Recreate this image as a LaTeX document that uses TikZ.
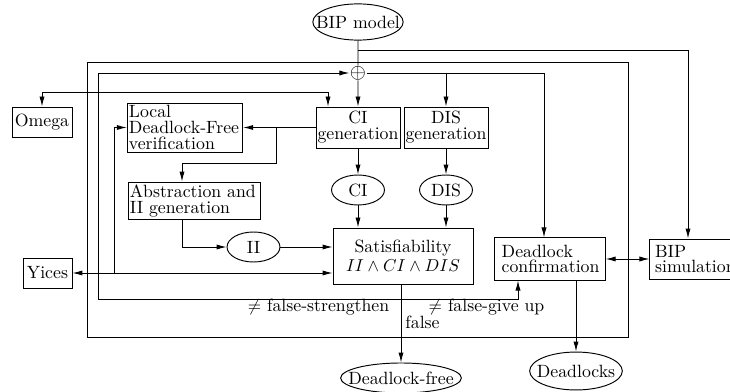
\documentclass[tikz,border=0pt]{standalone}
\usepackage{amsmath}
\usetikzlibrary{shapes.geometric,arrows.meta}

\begin{document}
\begin{tikzpicture}[x=0.58pt,y=-0.58pt,
  font=\fontsize{10.3}{9.2}\selectfont,
  line width=0.55pt,
  arr/.style={-{Latex[length=5.8pt,width=3pt]}},
  darr/.style={{Latex[length=5.8pt,width=3pt]}-{Latex[length=5.8pt,width=3pt]}},
  box/.style={draw, inner xsep=1.5pt, inner ysep=0pt, align=left},
  cbox/.style={draw, inner sep=0pt, align=center},
  oval/.style={draw, ellipse, inner ysep=0pt}]
  \useasboundingbox (0,0) rectangle (730,392);
  \node[oval, inner xsep=-5.8pt, minimum width=51pt, minimum height=21pt] (bipm) at (358,22) {BIP model};
  \node[inner sep=0pt, scale=1.2] (sum) at (358,73) {$\oplus$};
  \node[draw, minimum width=313.8pt, minimum height=159.5pt] (frame) at (357.5,199.5) {};
  \node[cbox, minimum width=34.8pt, minimum height=17.4pt] (omega) at (42,122) {Omega};
  \node[box, inner xsep=1pt, text width=65pt, minimum height=28.4pt] (local) at (185,127.5) {Local\\\mbox{Deadlock-Free}\\verification};
  \node[cbox, minimum width=48.7pt, minimum height=23.8pt] (cigen) at (358,127.5) {CI\\generation};
  \node[cbox, minimum width=48.7pt, minimum height=23.8pt] (disgen) at (446,127.5) {DIS\\generation};
  \node[oval, inner xsep=0pt, minimum width=30.7pt, minimum height=17.4pt] (ciell) at (358,190) {CI};
  \node[oval, inner xsep=0pt, minimum width=30.7pt, minimum height=17.4pt] (disell) at (446,190) {DIS};
  \node[box, inner xsep=1pt, text width=75pt, minimum height=22pt] (abs) at (194.5,201) {Abstraction and\\II generation};
  \node[oval, inner xsep=0pt, minimum width=30.7pt, minimum height=17.4pt] (iiell) at (253.5,247) {II};
  \node[cbox, minimum width=81.2pt, minimum height=32.5pt] (sat) at (403,256) {Satisfiability\\[2pt]$II \wedge CI \wedge DIS$};
  \node[cbox, minimum width=28.4pt, minimum height=17.4pt] (yices) at (47.5,273) {Yices};
  \node[box, inner xsep=4pt, text width=56pt, minimum height=24.4pt] (dlconf) at (550,259) {Deadlock\\confirmation};
  \node[box, inner xsep=3pt, text width=48pt, minimum height=23.2pt] (bipsim) at (696.5,259) {BIP\\simulation};
  \node[oval, inner xsep=-5.8pt, minimum width=70pt, minimum height=17.4pt] (dlfree) at (401,378) {Deadlock-free};
  \node[oval, inner xsep=-3.7pt, minimum width=51pt, minimum height=22pt] (dlocks) at (576,371) {Deadlocks};
  \node (lstr) at (318.5,307) {$\neq$ false-strengthen};
  \node (lgive) at (486.5,307) {$\neq$ false-give up};
  \node (lfalse) at (422.5,322) {false};

  \coordinate (tap) at (358,50);
  \coordinate (simin) at (688,50);
  \coordinate (confin) at (544,73);
  \coordinate (br) at (276,127.5);
  \coordinate (absin) at (182,163);
  \coordinate (ylink) at (114,273);
  \coordinate (cilink) at (328,92);
  \coordinate (fb) at (401,299);
  \coordinate (fbl) at (98,299);
  \coordinate (fbr) at (518,299);

  \draw (bipm) -- (sum);
  \draw[arr] (tap) -- (simin) -- (simin |- bipsim.north);
  \draw[arr] (sum) -- (cigen);
  \draw[arr] (sum) -- (confin) -- (confin |- dlconf.north);
  \draw[arr] (disgen |- sum) -- (disgen);
  \draw[arr] (cigen) -- (ciell);
  \draw[arr] (disgen) -- (disell);
  \draw[arr] (ciell) -- (ciell |- sat.north);
  \draw[arr] (disell) -- (disell |- sat.north);
  \draw[arr] (cigen) -- (local);
  \draw[arr] (br) |- (absin) -- (absin |- abs.north);
  \draw[arr] (absin |- abs.south) |- (iiell);
  \draw[arr] (iiell) -- (iiell -| sat.west);
  \draw[darr] (yices) -- (yices -| sat.west);
  \draw[arr] (ylink) |- (local);
  \draw[darr] (omega) |- (cilink) -- (cilink |- cigen.north);
  \draw[arr] (sat.south -| dlfree) -- (dlfree);
  \draw[arr] (fb) -- (fbl) |- (sum);
  \draw[arr] (fb) -- (fbr) -- (fbr |- dlconf.south);
  \draw[darr] (dlconf) -- (bipsim);
  \draw[arr] (dlconf.south -| dlocks) -- (dlocks);
\end{tikzpicture}
\end{document}
